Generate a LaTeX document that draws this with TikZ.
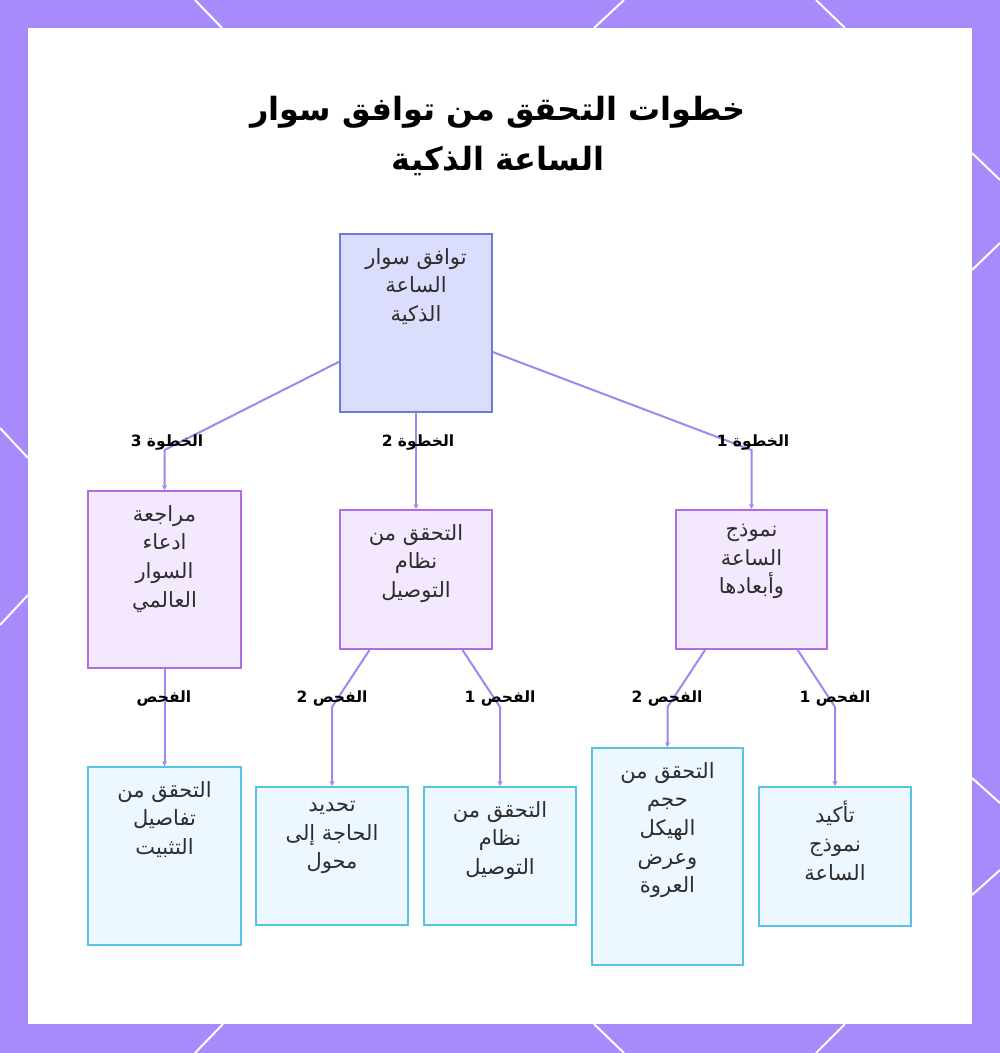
\documentclass[tikz,border=0pt]{standalone}
\usepackage{fontspec}
\TeXXeTstate=1
\newfontfamily\arabicfont[Script=Arabic]{DejaVu Sans}
\usetikzlibrary{arrows.meta}
\definecolor{bgpurple}{RGB}{167,139,250}
\definecolor{linecol}{RGB}{163,133,240}
\definecolor{rootfill}{RGB}{219,221,252}
\definecolor{rootdraw}{RGB}{105,124,214}
\definecolor{stepfill}{RGB}{243,232,254}
\definecolor{stepdraw}{RGB}{176,108,226}
\definecolor{leaffill}{RGB}{237,247,255}
\definecolor{leafdraw}{RGB}{88,194,230}
\definecolor{textgray}{RGB}{45,45,45}
\newcommand\RL[1]{\beginR #1\endR}
\begin{document}
\begin{tikzpicture}[x=1pt,y=-1pt,
  rootbox/.style={draw=rootdraw, fill=rootfill, line width=2pt, inner sep=0pt},
  stepbox/.style={draw=stepdraw, fill=stepfill, line width=2pt, inner sep=0pt},
  leafbox/.style={draw=leafdraw, fill=leaffill, line width=2pt, inner sep=0pt},
  boxtext/.style={anchor=north, align=center, inner sep=0pt, text=textgray,
    font=\arabicfont\fontsize{21}{28.7}\selectfont, yshift=-15pt},
  elabel/.style={inner sep=1pt, text=black, font=\arabicfont\bfseries\fontsize{15.5}{18}\selectfont},
  conn/.style={draw=linecol, line width=2pt},
  arr/.style={conn, -{Stealth[length=5pt,width=5pt]}},
  deco/.style={draw=white, line width=2pt}]
\useasboundingbox (0,0) rectangle (1000,1053);
\fill[bgpurple] (0,0) rectangle (1000,1053);
\fill[white] (28,28) rectangle (972,1024);
% decorative lines
\draw[deco] (195,0) -- (222,28);
\draw[deco] (624,0) -- (594,28);
\draw[deco] (816,0) -- (845,28);
\draw[deco] (223,1024) -- (195,1053);
\draw[deco] (594,1024) -- (624,1053);
\draw[deco] (845,1024) -- (816,1053);
\draw[deco] (0,428) -- (28,458);
\draw[deco] (28,595) -- (0,625);
\draw[deco] (972,153) -- (1000,180);
\draw[deco] (1000,243) -- (972,270);
\draw[deco] (972,778) -- (1000,803);
\draw[deco] (1000,870) -- (972,895);
% title
\node[align=center, inner sep=0pt, text=black, font=\arabicfont\bfseries\fontsize{32}{50}\selectfont] (title) at (498,136)
  {\RL{خطوات التحقق من توافق سوار}\\\RL{الساعة الذكية}};
% boxes
\node[rootbox, minimum width=152, minimum height=178] (root) at (416,323) {};
\node[boxtext] (troot) at (root.north) {\RL{توافق سوار}\\\RL{الساعة}\\\RL{الذكية}};
\node[stepbox, minimum width=153, minimum height=177] (s3) at (164.5,579.5) {};
\node[boxtext] (ts3) at (s3.north) {\RL{مراجعة}\\\RL{ادعاء}\\\RL{السوار}\\\RL{العالمي}};
\node[stepbox, minimum width=152, minimum height=139] (s2) at (416,579.5) {};
\node[boxtext] (ts2) at (s2.north) {\RL{التحقق من}\\\RL{نظام}\\\RL{التوصيل}};
\node[stepbox, minimum width=151, minimum height=139] (s1) at (751.5,579.5) {};
\node[boxtext] (ts1) at (s1.north) {\RL{نموذج}\\\RL{الساعة}\\\RL{وأبعادها}};
\node[leafbox, minimum width=153, minimum height=178] (la) at (164.5,856) {};
\node[boxtext] (tla) at (la.north) {\RL{التحقق من}\\\RL{تفاصيل}\\\RL{التثبيت}};
\node[leafbox, minimum width=152, minimum height=138] (lb) at (332,856) {};
\node[boxtext] (tlb) at (lb.north) {\RL{تحديد}\\\RL{الحاجة إلى}\\\RL{محول}};
\node[leafbox, minimum width=152, minimum height=138] (lc) at (500,856) {};
\node[boxtext] (tlc) at (lc.north) {\RL{التحقق من}\\\RL{نظام}\\\RL{التوصيل}};
\node[leafbox, minimum width=151, minimum height=217] (ld) at (667.5,856.5) {};
\node[boxtext] (tld) at (ld.north) {\RL{التحقق من}\\\RL{حجم}\\\RL{الهيكل}\\\RL{وعرض}\\\RL{العروة}};
\node[leafbox, minimum width=152, minimum height=139] (le) at (835,856.5) {};
\node[boxtext] (tle) at (le.north) {\RL{تأكيد}\\\RL{نموذج}\\\RL{الساعة}};
% bend points
\coordinate (k3) at (164.5,450);
\coordinate (k1) at (751.5,450);
\coordinate (c22) at (332,707);
\coordinate (c21) at (500,707);
\coordinate (c12) at (667.5,707);
\coordinate (c11) at (835,707);
% connectors
\draw[arr] (root) -- (k3) -- (k3 |- s3.north);
\draw[arr] (root) -- (s2);
\draw[arr] (root) -- (k1) -- (k1 |- s1.north);
\draw[arr] (s3) -- (la);
\draw[arr] (s2) -- (c22) -- (c22 |- lb.north);
\draw[arr] (s2) -- (c21) -- (c21 |- lc.north);
\draw[arr] (s1) -- (c12) -- (c12 |- ld.north);
\draw[arr] (s1) -- (c11) -- (c11 |- le.north);
% labels
\node[elabel] (l3) at (167,442) {\RL{الخطوة 3}};
\node[elabel] (l2) at (418,442) {\RL{الخطوة 2}};
\node[elabel] (l1) at (753,442) {\RL{الخطوة 1}};
\node[elabel] (f3) at (164,698) {\RL{الفحص}};
\node[elabel] (f22) at (332,698) {\RL{الفحص 2}};
\node[elabel] (f21) at (500,698) {\RL{الفحص 1}};
\node[elabel] (f12) at (667,698) {\RL{الفحص 2}};
\node[elabel] (f11) at (835,698) {\RL{الفحص 1}};
\end{tikzpicture}
\end{document}
